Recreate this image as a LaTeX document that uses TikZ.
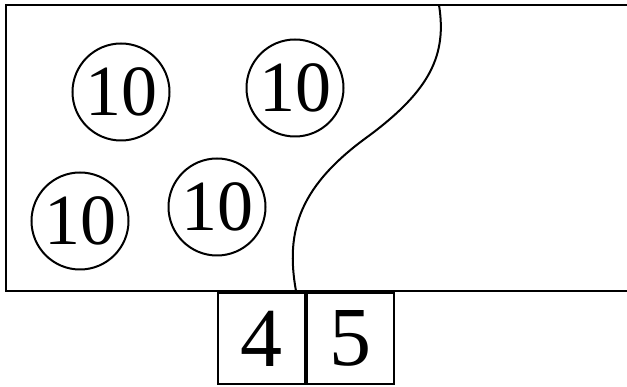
\documentclass[tikz,border=0pt]{standalone}
\usepackage{fontspec}
\setmainfont{Liberation Serif}
\usetikzlibrary{positioning}

\begin{document}
\begin{tikzpicture}[x=1pt,y=-1pt,
  part/.style={draw,circle,line width=2pt,minimum size=97pt,inner sep=0pt,
               font=\fontsize{72}{72}\selectfont},
  slot/.style={draw,line width=2pt,minimum width=87pt,minimum height=91pt,
               inner sep=0pt,font=\fontsize{84}{84}\selectfont},
  edge/.style={line width=2.4pt}]
  \useasboundingbox (0,0) rectangle (627,387);
  % outline
  \coordinate (tr) at (627,5);
  \coordinate (tl) at (6,5);
  \coordinate (bl) at (6,291);
  \coordinate (br) at (627,291);
  \draw[edge] (tr) -- (tl) -- (bl) -- (br);
  % boundary curve
  \coordinate (top) at (439,5);
  \coordinate (mid) at (370,135);
  \coordinate (bot) at (296,291);
  \draw[line width=2pt] (top) .. controls (447,55) and (430,90) .. (mid)
    .. controls (300,185) and (285,230) .. (bot);
  % parts
  \node[part] (c1) at (121,92) {10};
  \node[part] (c2) at (295,88) {10};
  \node[part] (c3) at (80,221) {10};
  \node[part] (c4) at (217,207) {10};
  % slots
  \node[slot,anchor=north west] (b4) at (217,292) {4};
  \node[slot,anchor=west] (b5) at (b4.east) {5};
\end{tikzpicture}
\end{document}
